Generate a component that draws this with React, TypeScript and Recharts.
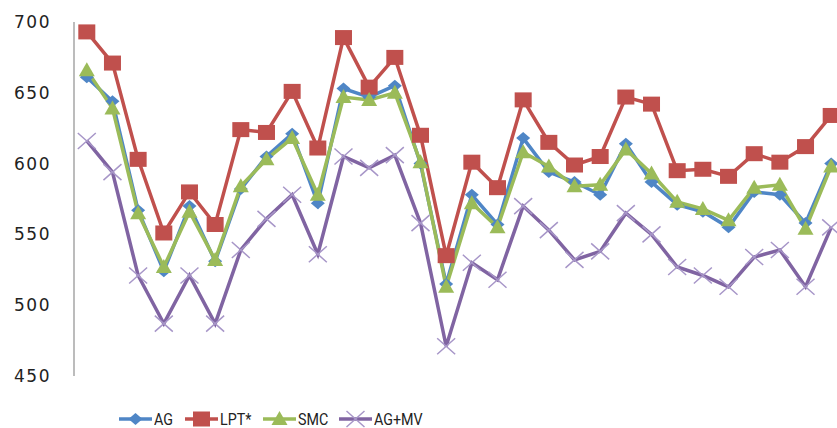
import React from "react";
import { LineChart, Line, XAxis, YAxis } from "recharts";

const categories = ["1","2","3","4","5","6","7","8","9","10","11","12","13","14","15","16","17","18","19","20","21","22","23","24","25","26","27","28","29","30"];
const agValues = [661, 644, 567, 524, 570, 531, 582, 605, 621, 572, 653, 647, 655, 600, 515, 578, 557, 618, 594, 587, 578, 614, 587, 571, 566, 555, 580, 578, 558, 600];
const lptValues = [693, 671, 603, 551, 580, 557, 624, 622, 651, 611, 689, 654, 675, 620, 535, 601, 583, 645, 615, 599, 605, 647, 642, 595, 596, 591, 607, 601, 612, 634];
const smcValues = [666, 639, 565, 527, 566, 532, 584, 603, 618, 578, 647, 645, 650, 601, 513, 572, 555, 608, 598, 584, 585, 610, 593, 573, 568, 560, 583, 585, 554, 598];
const agmvValues = [616, 594, 521, 487, 521, 487, 539, 561, 578, 536, 605, 597, 606, 558, 471, 530, 518, 570, 553, 532, 538, 565, 550, 527, 521, 513, 534, 539, 513, 555];
const yTicks = [450, 500, 550, 600, 650, 700];
const seriesNames = ["AG", "LPT*", "SMC", "AG+MV"];

const data = categories.map((c, i) => ({
  cat: c,
  AG: agValues[i],
  LPT: lptValues[i],
  SMC: smcValues[i],
  AGMV: agmvValues[i],
}));

const BLUE = "#4F86C6";
const RED = "#C0504D";
const GREEN = "#9BBB59";
const PURPLE = "#8064A2";
const XPURPLE = "#A796C8";

const diamondShape = (cx: number, cy: number) => (
  <path d={`M${cx},${cy - 6} L${cx + 7},${cy} L${cx},${cy + 6} L${cx - 7},${cy} Z`} fill={BLUE} />
);
const squareShape = (cx: number, cy: number) => (
  <rect x={cx - 8.5} y={cy - 7.5} width={17} height={15} fill={RED} />
);
const triangleShape = (cx: number, cy: number) => (
  <path d={`M${cx},${cy - 8} L${cx + 8},${cy + 6} L${cx - 8},${cy + 6} Z`} fill={GREEN} />
);
const xShape = (cx: number, cy: number) => (
  <path d={`M${cx - 9},${cy - 8} L${cx + 9},${cy + 8} M${cx - 9},${cy + 8} L${cx + 9},${cy - 8}`} stroke={XPURPLE} strokeWidth={1.5} fill="none" />
);

const makeDot = (shape: (cx: number, cy: number) => React.ReactNode) => (props: any) => {
  const { cx, cy, index } = props;
  if (cx == null || cy == null) return <g key={`d-${index}`} />;
  return <g key={`d-${index}`}>{shape(cx, cy)}</g>;
};

const legendItems = [
  { name: seriesNames[0], color: BLUE, shape: diamondShape, left: 119 },
  { name: seriesNames[1], color: RED, shape: squareShape, left: 185 },
  { name: seriesNames[2], color: GREEN, shape: triangleShape, left: 263 },
  { name: seriesNames[3], color: PURPLE, shape: xShape, left: 339 },
];

export default function App() {
  return (
    <div style={{ position: "absolute", left: 0, top: 0, width: 837, height: 428, overflow: "hidden", background: "#fff" }}>
      <LineChart width={850} height={428} data={data} margin={{ top: 22, right: 6, left: 0, bottom: 52 }}>
        <XAxis dataKey="cat" tick={false} tickLine={false} height={0} axisLine={{ stroke: "#A6A6A6", strokeWidth: 1.5 }} padding={{ left: 12.8, right: 12.8 }} />
        <YAxis
          domain={[450, 700]}
          ticks={yTicks}
          width={74}
          tickLine={false}
          axisLine={{ stroke: "#A6A6A6", strokeWidth: 1.5 }}
          tickMargin={17}
          tick={{ fill: "#222", fontSize: 17, fontFamily: "'DejaVu Sans', sans-serif", letterSpacing: 1.5 }}
        />
        <Line dataKey="AG" name={seriesNames[0]} stroke={BLUE} strokeWidth={3.5} dot={makeDot(diamondShape)} isAnimationActive={false} />
        <Line dataKey="LPT" name={seriesNames[1]} stroke={RED} strokeWidth={3.5} dot={makeDot(squareShape)} isAnimationActive={false} />
        <Line dataKey="SMC" name={seriesNames[2]} stroke={GREEN} strokeWidth={3.5} dot={makeDot(triangleShape)} isAnimationActive={false} />
        <Line dataKey="AGMV" name={seriesNames[3]} stroke={PURPLE} strokeWidth={3.5} dot={makeDot(xShape)} isAnimationActive={false} />
      </LineChart>
      {legendItems.map((it) => (
        <div key={it.name} style={{ position: "absolute", left: it.left, top: 408, height: 22, display: "flex", alignItems: "center", fontFamily: "Roboto, 'Open Sans', sans-serif", fontSize: 17, lineHeight: "22px", color: "#222", whiteSpace: "nowrap" }}>
          <svg width={33} height={20} style={{ display: "block" }}>
            <line x1={0} y1={10} x2={33} y2={10} stroke={it.color} strokeWidth={3.5} />
            {it.shape(16.5, 10)}
          </svg>
          <span style={{ marginLeft: 2, display: "inline-block", transform: "scaleX(0.84)", transformOrigin: "left center" }}>{it.name}</span>
        </div>
      ))}
    </div>
  );
}
